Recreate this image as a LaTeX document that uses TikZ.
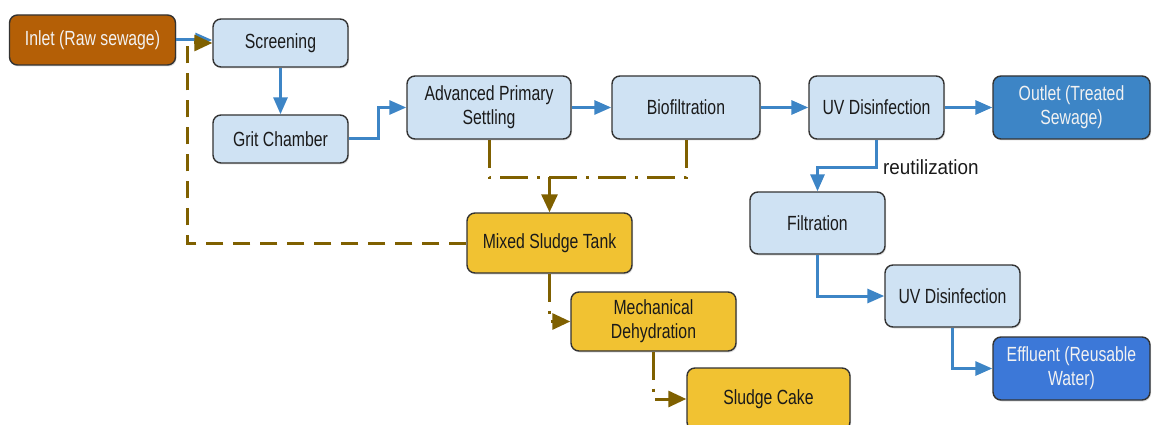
\documentclass[tikz,border=0pt]{standalone}
\usepackage{fontspec}
\setmainfont{Liberation Sans}[FakeStretch=0.77]
\newfontfamily\widefont{Liberation Sans}[FakeStretch=0.92]
\usetikzlibrary{arrows.meta,shadows}
\definecolor{lightbox}{HTML}{CFE2F3}
\definecolor{inletc}{HTML}{B45F06}
\definecolor{outletc}{HTML}{3D85C6}
\definecolor{effc}{HTML}{3C78D8}
\definecolor{sludgec}{HTML}{F1C232}
\definecolor{brownl}{HTML}{7F6000}
\definecolor{bluel}{HTML}{3D85C6}
\definecolor{borderc}{HTML}{333333}
\definecolor{darktext}{HTML}{1A1A1A}
\definecolor{lighttext}{HTML}{F2F2F2}
\begin{document}
\begin{tikzpicture}[x=1pt,y=-1pt,
  box/.style={draw=borderc, line width=1.4pt, rounded corners=8pt, align=center,
    inner sep=0pt, font=\fontsize{20.5}{24}\selectfont,
    drop shadow={opacity=0.25, shadow xshift=1pt, shadow yshift=-1.5pt}},
  lbox/.style={box, fill=lightbox, text=darktext},
  dbox/.style={box, text=lighttext},
  ybox/.style={box, fill=sludgec, text=darktext},
  flow/.style={draw=bluel, line width=3pt, -{Triangle[length=17pt,width=14pt]}},
  sludge/.style={draw=brownl, line width=3pt, -{Triangle[length=18pt,width=16pt]}},
  dashdot/.style={dash pattern=on 28pt off 9pt on 3pt off 9pt},
  lbl/.style={font=\widefont\fontsize{20.5}{24}\selectfont, text=darktext, inner sep=0pt}
]
\fill[white] (0,0) rectangle (1154,425);
\clip (0,0) rectangle (1154,425);
\useasboundingbox (0,0) rectangle (1154,425);

% nodes
\node[dbox, fill=inletc, minimum width=166pt, minimum height=50pt] (inlet) at (92.5,40) {Inlet (Raw sewage)};
\node[lbox, minimum width=135pt, minimum height=48pt] (screen) at (280.5,43) {Screening};
\node[lbox, minimum width=135pt, minimum height=48pt] (grit) at (280.5,139) {Grit Chamber};
\node[lbox, minimum width=164pt, minimum height=63pt] (aps) at (489,107.5) {Advanced Primary\\Settling};
\node[lbox, minimum width=148pt, minimum height=63pt] (bio) at (686,107.5) {Biofiltration};
\node[lbox, minimum width=135pt, minimum height=63pt] (uv1) at (876.5,107.5) {UV Disinfection};
\node[dbox, fill=outletc, minimum width=157pt, minimum height=63pt] (outlet) at (1071.5,107.5) {Outlet (Treated\\Sewage)};
\node[lbox, minimum width=135pt, minimum height=62pt] (filt) at (817.5,223) {Filtration};
\node[lbox, minimum width=135pt, minimum height=62pt] (uv2) at (952.5,296) {UV Disinfection};
\node[dbox, fill=effc, minimum width=157pt, minimum height=63pt] (eff) at (1071.5,368.5) {Effluent (Reusable\\Water)};
\node[ybox, minimum width=165pt, minimum height=60pt] (mixed) at (549.5,243) {Mixed Sludge Tank};
\node[ybox, minimum width=165pt, minimum height=59pt] (mech) at (653.5,321.5) {Mechanical\\Dehydration};
\node[ybox, minimum width=163pt, minimum height=62pt] (cake) at (768.5,399) {Sludge Cake};

% blue flow
\draw[flow] (inlet.east) -- (inlet.east -| screen.west);
\draw[flow] (screen.south) -- (grit.north);
\draw[flow] (grit.east) -- ++(30,0) |- (aps.west);
\draw[flow] (aps.east) -- (bio.west);
\draw[flow] (bio.east) -- (uv1.west);
\draw[flow] (uv1.east) -- (outlet.west);
\draw[flow] (uv1.south) -- ++(0,28) -| (filt.north);
\node[lbl, anchor=west] (reut) at (883,167) {reutilization};
\draw[flow] (filt.south) |- (uv2.west);
\draw[flow] (uv2.south) |- (eff.west);

% sludge flow
\coordinate (c1) at (187,243);
\coordinate (c2) at (187,43);
\draw[sludge, dash pattern=on 17pt off 10pt] (mixed.west) -- (c1) -- (c2) -- (screen.west);
\draw[draw=brownl, line width=3pt, dashdot] (aps.south) -- ++(0,38) -| (bio.south);
\coordinate (j) at (549.5,177);
\draw[sludge] (j) -- (mixed.north);
\draw[sludge, dashdot] (mixed.south) |- (mech.west);
\draw[sludge, dashdot] (mech.south) |- (cake.west);
\end{tikzpicture}
\end{document}
